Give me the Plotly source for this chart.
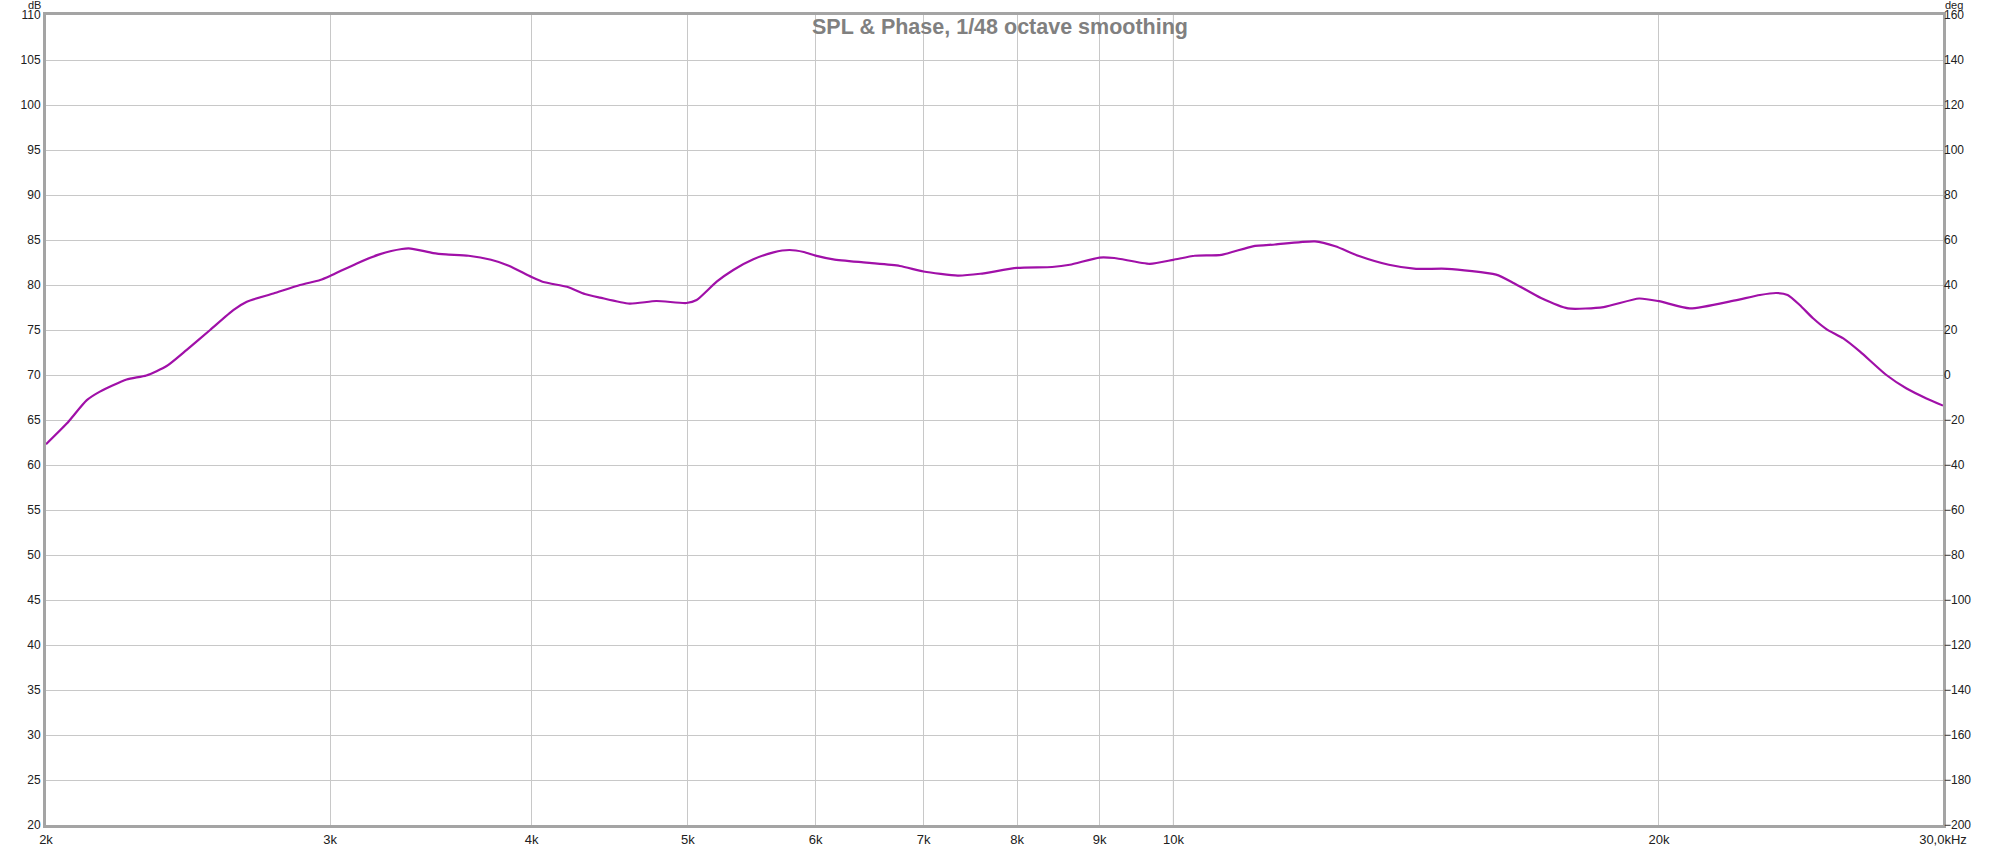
import plotly.graph_objects as go

# ---- data ----
freq_hz = [2000, 2060, 2120, 2160, 2244, 2308, 2376, 2445, 2528, 2613, 2664, 2767, 2874, 2958,
           3000, 3117, 3219, 3324, 3366, 3476, 3540, 3656, 3775, 3872, 4000, 4075, 4208, 4316,
           4410, 4600, 4780, 4990, 5063, 5210, 5335, 5490, 5650, 5780, 5900, 6000, 6154,
           6450, 6767, 7000, 7350, 7590, 8000, 8410, 8625, 9000, 9190, 9670, 10000, 10310,
           10710, 11200, 11560, 12240, 12600, 13020, 13600, 14140, 14780, 15850, 16260, 16900,
           17560, 18480, 19440, 20000, 20900, 22250, 23100, 23650, 24030, 24450, 24920, 25400,
           26020, 26650, 27670, 28480, 29300, 30000]
spl_db = [62.3, 64.6, 67.2, 68.15, 69.5, 69.95, 71.0, 72.8, 75.0, 77.2, 78.15, 79.05, 80.0, 80.55,
          81.0, 82.4, 83.4, 84.0, 84.05, 83.55, 83.4, 83.25, 82.8, 82.15, 80.9, 80.3, 79.8, 79.0,
          78.6, 77.93, 78.22, 78.0, 78.33, 80.37, 81.67, 82.85, 83.63, 83.89, 83.67, 83.26, 82.85,
          82.48, 82.11, 81.5, 81.05, 81.25, 81.9, 82.0, 82.25, 83.05, 83.0, 82.35, 82.8, 83.25,
          83.35, 84.3, 84.5, 84.85, 84.3, 83.25, 82.25, 81.8, 81.8, 81.15, 80.2, 78.55,
          77.4, 77.55, 78.5, 78.2, 77.4, 78.26, 78.89, 79.11, 78.89, 77.78, 76.3, 75.1,
          74.07, 72.6, 70.0, 68.5, 67.4, 66.6]

x_tickvals = [2000, 3000, 4000, 5000, 6000, 7000, 8000, 9000, 10000, 20000, 30000]
x_ticktext = ["2k", "3k", "4k", "5k", "6k", "7k", "8k", "9k", "10k", "20k", "30,0kHz"]
db_range = [20, 110]
deg_range = [-200, 160]
title_text = "SPL & Phase, 1/48 octave smoothing"

FONT = "Liberation Sans"
GRID = "#c8c8c8"
FRAME = "#a4a4a4"

fig = go.Figure()
fig.add_trace(go.Scatter(
    x=freq_hz, y=spl_db, mode="lines",
    line=dict(color="#a010a8", width=2.2, shape="spline", smoothing=0.6),
    showlegend=False, hoverinfo="skip",
))
# invisible trace to bring up the phase (right) axis
fig.add_trace(go.Scatter(
    x=[freq_hz[0], freq_hz[-1]], y=[None, None], yaxis="y2",
    mode="lines", showlegend=False, hoverinfo="skip",
))

fig.update_layout(
    width=2000, height=846,
    margin=dict(l=46, r=57, t=15, b=21, pad=0, autoexpand=False),
    paper_bgcolor="white", plot_bgcolor="white",
    font=dict(family=FONT, size=12, color="#202020"),
    xaxis=dict(
        type="log", range=[3.30103, 4.4771213], automargin=False,
        tickmode="array", tickvals=x_tickvals, ticktext=x_ticktext,
        showgrid=True, gridcolor=GRID, gridwidth=1,
        showline=True, linecolor=FRAME, linewidth=3, mirror=True,
        ticks="", zeroline=False, tickfont=dict(size=13),
    ),
    yaxis=dict(
        range=db_range, dtick=5, tick0=20, automargin=False,
        showgrid=True, gridcolor=GRID, gridwidth=1,
        showline=True, linecolor=FRAME, linewidth=3, mirror=True,
        ticks="", zeroline=False, tickfont=dict(size=12),
    ),
    yaxis2=dict(
        range=deg_range, dtick=20, tick0=-200, overlaying="y", side="right",
        automargin=False,
        showgrid=False, zeroline=False, showline=False, ticks="",
        tickfont=dict(size=12),
    ),
    shapes=[dict(type="line", xref="x", yref="paper", x0=10000, x1=10000, y0=0, y1=1,
                 line=dict(color="#a0a0a0", width=1), layer="below")],
    annotations=[
        dict(text=title_text, xref="paper", yref="paper", x=0.503, y=0.985,
             xanchor="center", yanchor="middle", showarrow=False,
             font=dict(family=FONT, size=21.5, color="#808080", weight="bold")),
        dict(text="dB", xref="paper", yref="paper", x=-0.002, y=1.0, xanchor="right",
             yanchor="middle", showarrow=False, yshift=10, borderpad=0,
             font=dict(size=11)),
        dict(text="deg", xref="paper", yref="paper", x=1.0, y=1.0, xanchor="left",
             yanchor="middle", showarrow=False, xshift=1, yshift=10, borderpad=0,
             font=dict(size=11)),
    ],
)

fig.write_html(
    "out.html",
    config={"displayModeBar": False},
    post_script="document.body.style.margin='0';document.body.style.overflow='hidden';",
)
